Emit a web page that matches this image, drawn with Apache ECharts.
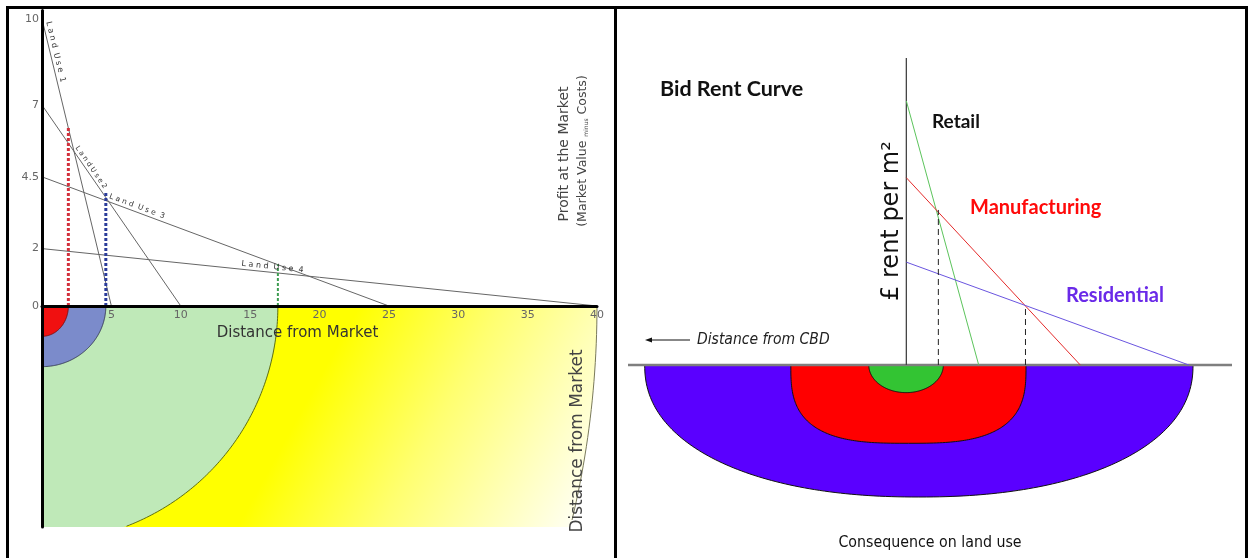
<!DOCTYPE html>
<html><head><meta charset="utf-8">
<script src="https://cdn.jsdelivr.net/npm/echarts@6/dist/echarts.min.js"></script>
<style>html,body{margin:0;padding:0;background:#fff}#c{width:1248px;height:558px}</style>
</head><body><div id="c"></div>
<script>
// ---------- Left panel: profit at the market vs distance ----------
const landUseNames = ['Land Use 1', 'Land Use 2', 'Land Use 3', 'Land Use 4'];
const landUseIntercept = [10, 7, 4.5, 2];   // profit at distance 0
const landUseReach = [5, 10, 25, 40];       // distance where profit falls to 0
const boundaryDistance = [1.9, 4.6, 17.0];  // dotted verticals (zone boundaries)
const boundaryProfit = [6.2, 4.0, 1.45];
const ringRadius = [40, 17.0, 4.6, 1.9];    // outer to inner rings
const profitTicks = [0, 2, 4.5, 7, 10];
const distanceTicks = [5, 10, 15, 20, 25, 30, 35, 40];

// ---------- Right panel: bid rent curve ----------
const rentNames = ['Retail', 'Manufacturing', 'Residential'];
const rentIntercept = [8.6, 6.1, 3.35];
const rentReach = [2.6, 6.25, 10.15];
const rentCrossDistance = [1.15, 4.28];
const rentCrossValue = [5.05, 1.95];
const zoneNames = ['Residential', 'Manufacturing', 'Retail'];
const zoneLeft = [-9.4, -4.15, -1.35];
const zoneRight = [10.3, 4.3, 1.33];
const zoneDepth = [4.3, 2.55, 0.9];

// ---------- styles ----------
const ringStretch = [1.3, 1.0, 0.95, 1.15];
const ringStroke = ['#7a7a5a', '#5f6f10', '#3a3f5a', '#7a1010'];
const ringFill = ['yellow', '#bfe9b8', '#7b8bcb', '#f01010'];
const dotColors = ['#d3303c', '#2b3c9a', '#3d9c50'];
const dotWidths = [3, 3, 2];
const labelAlong = [4, 54, 70, 200];
const labelSize = [8, 7, 7.5, 8];
const labelGap = [' ', '', ' ', ' '];
const rentColors = ['#5cc45c', '#e52a2a', '#6a55e0'];
const zoneColors = ['#5a00ff', '#ff0000', '#33c433'];
const zoneExp = [2.2, 3.0, 2.0];

function spaced(s, g) { return s.split(' ').map(w => w.split('').join(' ')).join(' ' + g); }

const chart = echarts.init(document.getElementById('c'), null, {renderer: 'canvas'});
const series = [];

series.push({
  type: 'custom', name: 'Rings', xAxisIndex: 0, yAxisIndex: 0, z: 1, silent: true,
  data: ringRadius.map((r, i) => [r, i]),
  renderItem: function (params, api) {
    const r = api.value(0), i = api.value(1);
    const o = api.coord([0, 0]);
    const e = api.coord([r, 0]);
    const rx = e[0] - o[0];
    const ry = rx * ringStretch[i];
    const bottom = params.coordSys.y + params.coordSys.height;
    const pts = [], arc = [];
    for (let k = 0; k <= 120; k++) {
      const t = k / 120 * Math.PI / 2;
      const x = o[0] + rx * Math.cos(t), y = o[1] + ry * Math.sin(t);
      pts.push([x, Math.min(y, bottom)]);
      if (y <= bottom) arc.push([x, y]);
    }
    pts.push([o[0], o[1]]);
    let fill = ringFill[i];
    if (i === 0) {
      fill = {type: 'linear', global: true,
        x: o[0] + 0.5 * rx, y: o[1] + 0.13 * rx, x2: o[0] + 0.99 * rx, y2: o[1] + 0.4 * rx,
        colorStops: [{offset: 0, color: '#ffff00'}, {offset: 0.4, color: '#ffff70'}, {offset: 1, color: '#ffffff'}]};
    }
    return {type: 'group', children: [
      {type: 'polygon', shape: {points: pts}, style: {fill: fill, stroke: null}},
      {type: 'polyline', shape: {points: arc}, style: {fill: null, stroke: ringStroke[i], lineWidth: 1}}
    ]};
  }
});

landUseNames.forEach((n, i) => {
  series.push({
    type: 'line', name: n, xAxisIndex: 0, yAxisIndex: 0, z: 3, silent: true,
    data: [[0, landUseIntercept[i]], [landUseReach[i], 0]],
    symbol: 'none', lineStyle: {color: '#666', width: 1}
  });
});

// labels along the land-use lines
series.push({
  type: 'custom', name: 'Land use labels', xAxisIndex: 0, yAxisIndex: 0, z: 5, silent: true,
  data: landUseNames.map((n, i) => [landUseIntercept[i], landUseReach[i], i]),
  renderItem: function (params, api) {
    const a = api.value(0), b = api.value(1), i = api.value(2);
    const p0 = api.coord([0, a]), p1 = api.coord([b, 0]);
    const dx = p1[0] - p0[0], dy = p1[1] - p0[1], L = Math.hypot(dx, dy);
    const ux = dx / L, uy = dy / L, nx = uy, ny = -ux;
    return {type: 'text', x: p0[0] + ux * labelAlong[i] + nx * 1.5, y: p0[1] + uy * labelAlong[i] + ny * 1.5,
      rotation: -Math.atan2(dy, dx),
      style: {text: spaced(landUseNames[i], labelGap[i]), fontFamily: 'DejaVu Sans', fontSize: labelSize[i], fill: '#333',
        align: 'left', verticalAlign: 'bottom'}};
  }
});

boundaryDistance.forEach((d, i) => {
  series.push({
    type: 'line', name: 'Boundary ' + (i + 1), xAxisIndex: 0, yAxisIndex: 0, z: 4, silent: true,
    data: [[d, 0], [d, boundaryProfit[i]]], symbol: 'none',
    lineStyle: {color: dotColors[i], width: dotWidths[i], type: [3, 2]}
  });
});

// Right panel
series.push({
  type: 'custom', name: 'Zones', xAxisIndex: 1, yAxisIndex: 1, z: 1, silent: true,
  data: zoneNames.map((n, i) => [zoneLeft[i], zoneRight[i], zoneDepth[i], i]),
  renderItem: function (params, api) {
    const l = api.value(0), r = api.value(1), d = api.value(2), i = api.value(3);
    const pl = api.coord([l, 0]), pr = api.coord([r, 0]), pb = api.coord([(l + r) / 2, -d]);
    const cx = (pl[0] + pr[0]) / 2, cy = pl[1], rx = (pr[0] - pl[0]) / 2, ry = pb[1] - cy;
    const n = zoneExp[i], pts = [];
    for (let k = 0; k <= 160; k++) {
      const t = k / 160 * Math.PI;
      const c = Math.cos(t), s = Math.sin(t);
      pts.push([cx + rx * Math.sign(c) * Math.pow(Math.abs(c), 2 / n), cy + ry * Math.pow(Math.abs(s), 2 / n)]);
    }
    return {type: 'polygon', shape: {points: pts}, style: {fill: zoneColors[i], stroke: '#111', lineWidth: 1}};
  }
});

series.push({type: 'line', name: 'Baseline', xAxisIndex: 1, yAxisIndex: 1, z: 3, silent: true,
  data: [[-10, 0], [11.7, 0]], symbol: 'none', lineStyle: {color: '#7f7f7f', width: 2.5}});
series.push({type: 'line', name: 'Rent axis', xAxisIndex: 1, yAxisIndex: 1, z: 3, silent: true,
  data: [[0, 0], [0, 10]], symbol: 'none', lineStyle: {color: '#444', width: 1.3}});

rentNames.forEach((n, i) => {
  series.push({type: 'line', name: n, xAxisIndex: 1, yAxisIndex: 1, z: 4, silent: true,
    data: [[0, rentIntercept[i]], [rentReach[i], 0]], symbol: 'none',
    lineStyle: {color: rentColors[i], width: 1}});
});
rentCrossDistance.forEach((d, i) => {
  series.push({type: 'line', name: 'Cross ' + (i + 1), xAxisIndex: 1, yAxisIndex: 1, z: 4, silent: true,
    data: [[d, 0], [d, rentCrossValue[i]]], symbol: 'none',
    lineStyle: {color: '#222', width: 1, type: [6, 4]}});
});

const lbl = {fontFamily: 'DejaVu Sans', fontSize: 11, color: '#666'};
const leftTop = 306 - 10.3 * 28.7, leftH = 18 * 28.7;

chart.setOption({
  animation: false,
  backgroundColor: '#fff',
  grid: [
    {left: 42, top: leftTop, width: 555, height: leftH, outerBoundsMode: 'none', containLabel: false},
    {left: 628, top: 58, width: 604, height: 460.5, outerBoundsMode: 'none', containLabel: false}
  ],
  xAxis: [
    {type: 'value', gridIndex: 0, min: 0, max: 40, z: 10, position: 'bottom',
      offset: -(leftTop + leftH - 306),
      axisLine: {show: true, onZero: false, lineStyle: {color: '#000', width: 3}},
      axisTick: {show: false}, splitLine: {show: false},
      axisLabel: Object.assign({customValues: distanceTicks, margin: 4}, lbl),
      name: 'Distance from Market', nameLocation: 'middle', nameGap: 19,
      nameTextStyle: {fontFamily: 'DejaVu Sans', fontSize: 15, color: '#333', padding: [0, 44, 0, 0]}},
    {type: 'value', gridIndex: 1, min: -10, max: 11.7, show: false}
  ],
  yAxis: [
    {type: 'value', gridIndex: 0, min: -7.7, max: 10.3, z: 10,
      axisLine: {show: true, onZero: false, lineStyle: {color: '#000', width: 3}},
      axisTick: {show: false}, splitLine: {show: false},
      axisLabel: Object.assign({customValues: profitTicks, margin: 3}, lbl)},
    {type: 'value', gridIndex: 1, min: -5, max: 10, show: false}
  ],
  series: series,
  graphic: [
    {type: 'rect', shape: {x: 6, y: 6, width: 1242, height: 3}, style: {fill: '#000'}, z: 100},
    {type: 'rect', shape: {x: 6, y: 6, width: 3, height: 552}, style: {fill: '#000'}, z: 100},
    {type: 'rect', shape: {x: 614, y: 6, width: 3, height: 552}, style: {fill: '#000'}, z: 100},
    {type: 'rect', shape: {x: 1245, y: 6, width: 3, height: 552}, style: {fill: '#000'}, z: 100},

    {type: 'text', x: 564, y: 154, rotation: Math.PI / 2, z: 50,
      style: {text: 'Profit at the Market', fontFamily: 'DejaVu Sans', fontSize: 14, fill: '#444', align: 'center', verticalAlign: 'middle'}},
    {type: 'text', x: 583, y: 151, rotation: Math.PI / 2, z: 50,
      style: {text: '(Market Value {s|minus} Costs)', fontFamily: 'DejaVu Sans', fontSize: 12.5, fill: '#444', align: 'center', verticalAlign: 'middle',
        rich: {s: {fontSize: 6, fill: '#444', fontFamily: 'DejaVu Sans', verticalAlign: 'bottom'}}}},
    {type: 'text', x: 578, y: 441, rotation: Math.PI / 2, z: 50,
      style: {text: 'Distance from Market', fontFamily: 'DejaVu Sans', fontSize: 17, fill: '#444', align: 'center', verticalAlign: 'middle'}},

    {type: 'text', x: 660, y: 89, z: 50,
      style: {text: 'Bid Rent Curve', fontFamily: 'Lato', fontWeight: 'bold', fontSize: 21.5, fill: '#111', align: 'left', verticalAlign: 'middle'}},
    {type: 'text', x: 932, y: 122, z: 50,
      style: {text: 'Retail', fontFamily: 'Lato', fontWeight: 'bold', fontSize: 19, fill: '#111', align: 'left', verticalAlign: 'middle'}},
    {type: 'text', x: 970, y: 208, z: 50,
      style: {text: 'Manufacturing', fontFamily: 'Lato', fontWeight: 'bold', fontSize: 20, fill: '#ff0a0a', align: 'left', verticalAlign: 'middle'}},
    {type: 'text', x: 1066, y: 296, z: 50,
      style: {text: 'Residential', fontFamily: 'Lato', fontWeight: 'bold', fontSize: 20, fill: '#6a2ae8', align: 'left', verticalAlign: 'middle'}},
    {type: 'text', x: 892, y: 221, rotation: Math.PI / 2, z: 50,
      style: {text: '£ rent per m²', fontFamily: 'DejaVu Sans', fontSize: 24, fill: '#111', align: 'center', verticalAlign: 'middle'}},
    {type: 'line', shape: {x1: 648, y1: 340, x2: 690, y2: 340}, style: {stroke: '#111', lineWidth: 1}, z: 50},
    {type: 'polygon', shape: {points: [[645, 340], [652, 337.5], [652, 342.5]]}, style: {fill: '#111'}, z: 50},
    {type: 'text', x: 697, y: 340, z: 50,
      style: {text: 'Distance from CBD', fontFamily: 'DejaVu Sans Condensed, DejaVu Sans', fontStyle: 'italic', fontSize: 15.5, fill: '#222', align: 'left', verticalAlign: 'middle'}},
    {type: 'text', x: 930, y: 543, z: 50,
      style: {text: 'Consequence on land use', fontFamily: 'DejaVu Sans Condensed, DejaVu Sans', fontSize: 15.8, fill: '#111', align: 'center', verticalAlign: 'middle'}}
  ]
});
</script></body></html>
